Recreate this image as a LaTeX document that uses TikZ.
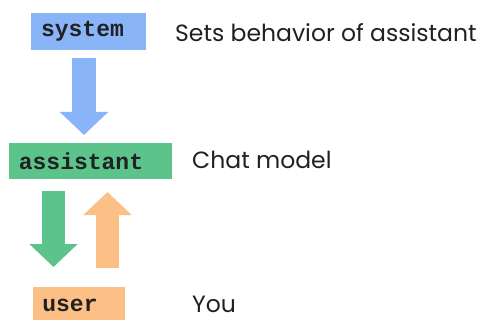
\documentclass[tikz,border=0pt]{standalone}
\usepackage{fontspec}
\setmainfont{Poppins}
\setmonofont{Liberation Mono}
\usetikzlibrary{arrows.meta}
\definecolor{sysblue}{RGB}{138,180,248}
\definecolor{asgreen}{RGB}{92,196,138}
\definecolor{usorange}{RGB}{252,192,134}
\definecolor{ink}{RGB}{32,33,36}
\begin{document}
\begin{tikzpicture}[x=1pt,y=-1pt,
  role/.style={inner sep=0pt, text=ink, font=\fontsize{23}{23}\selectfont\ttfamily\bfseries},
  desc/.style={anchor=west, inner sep=0pt, text=ink, font=\fontsize{23.5}{23.5}\selectfont},
  flow/.style={line width=23.5pt, -{Triangle[length=23pt,width=47pt]}}
]
\useasboundingbox[fill=white] (0,0) rectangle (478,320);
% role boxes
\fill[sysblue] (31,13) rectangle (146,50);
\fill[asgreen] (9,143) rectangle (172,179);
\fill[usorange] (33,287) rectangle (125,324);
\node[role] (sys) at (82.5,31.5) {system};
\node[role] (ast) at (81,161) {assistant};
\node[role] (usr) at (70,305.5) {user};
% descriptions
\node[desc] (dsys) at (175,33) {Sets behavior of assistant};
\node[desc] (dast) at (192,160) {Chat model};
\node[desc] (dusr) at (192,304.5) {You};
% flow arrows
\coordinate (b1) at (84,58);
\coordinate (b2) at (84,135);
\coordinate (g1) at (53.5,191);
\coordinate (g2) at (53.5,267);
\coordinate (o1) at (107.5,268);
\coordinate (o2) at (107.5,192);
\draw[flow, sysblue] (b1) -- (b2);
\draw[flow, asgreen] (g1) -- (g2);
\draw[flow, usorange] (o1) -- (o2);
\end{tikzpicture}
\end{document}
